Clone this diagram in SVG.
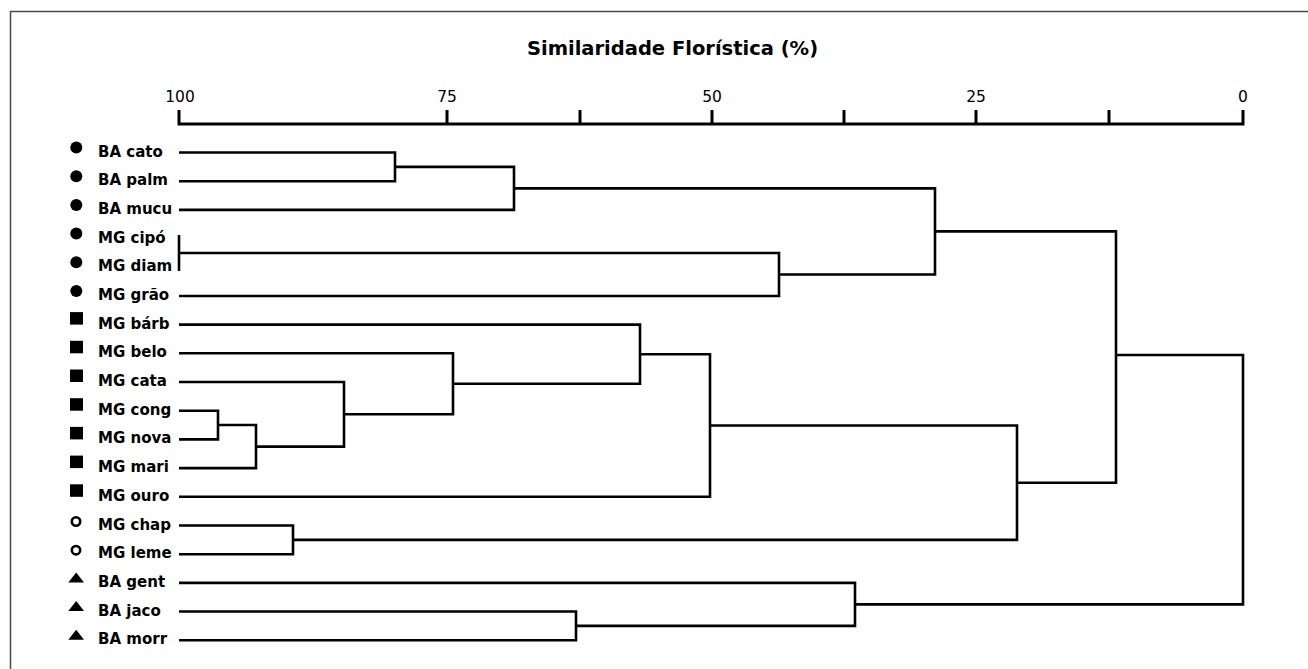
<svg xmlns="http://www.w3.org/2000/svg" width="1308" height="669" viewBox="0 0 1308 669">
<style>
  .frame{fill:none;stroke:#4a4a4a;stroke-width:1.5}
  .axis{fill:none;stroke:#000;stroke-width:3;stroke-linecap:butt;stroke-linejoin:miter}
  .tick{fill:none;stroke:#000;stroke-width:3}
  .br{fill:none;stroke:#000;stroke-width:2.6;stroke-linecap:butt;stroke-linejoin:miter}
  .title{font-family:"DejaVu Sans",sans-serif;font-weight:bold;font-size:19.5px;fill:#000}
  .tl{font-family:"DejaVu Sans",sans-serif;font-size:15.5px;fill:#000;text-anchor:middle}
  .lab{font-family:"DejaVu Sans Condensed","DejaVu Sans",sans-serif;font-stretch:condensed;font-weight:bold;font-size:16.7px;fill:#000}
  .fill{fill:#000}
  .open{fill:none;stroke:#000;stroke-width:2.6}
</style>
<rect x="10.5" y="11.5" width="1320" height="700" class="frame"/>
<text class="title" x="672.5" y="54.5" text-anchor="middle">Similaridade Florística (%)</text>
<g id="axis">
  <path class="axis" d="M179 110 V124 H1243 V110"/>
  <path class="tick" d="M447 110V124 M580 110V124 M712 110V124 M844 110V124 M976 110V124 M1109 110V124"/>
  <text class="tl" x="180" y="102">100</text>
  <text class="tl" x="447" y="102">75</text>
  <text class="tl" x="712" y="102">50</text>
  <text class="tl" x="976" y="102">25</text>
  <text class="tl" x="1243" y="102">0</text>
</g>
<g id="leaf-ba-cato"><circle class="fill" cx="76.3" cy="147.5" r="6"/><text class="lab" x="98" y="156.5">BA cato</text></g>
<g id="leaf-ba-palm"><circle class="fill" cx="76.3" cy="176.2" r="6"/><text class="lab" x="98" y="185.2">BA palm</text></g>
<g id="leaf-ba-mucu"><circle class="fill" cx="76.3" cy="204.9" r="6"/><text class="lab" x="98" y="213.9">BA mucu</text></g>
<g id="leaf-mg-cipo"><circle class="fill" cx="76.3" cy="233.6" r="6"/><text class="lab" x="98" y="242.6">MG cipó</text></g>
<g id="leaf-mg-diam"><circle class="fill" cx="76.3" cy="262.3" r="6"/><text class="lab" x="98" y="271.3">MG diam</text></g>
<g id="leaf-mg-grao"><circle class="fill" cx="76.3" cy="291" r="6"/><text class="lab" x="98" y="300">MG grão</text></g>
<g id="leaf-mg-barb"><rect class="fill" x="70" y="312.1" width="13" height="12.5"/><text class="lab" x="98" y="328.6">MG bárb</text></g>
<g id="leaf-mg-belo"><rect class="fill" x="70" y="340.8" width="13" height="12.5"/><text class="lab" x="98" y="357.3">MG belo</text></g>
<g id="leaf-mg-cata"><rect class="fill" x="70" y="369.5" width="13" height="12.5"/><text class="lab" x="98" y="386">MG cata</text></g>
<g id="leaf-mg-cong"><rect class="fill" x="70" y="398.2" width="13" height="12.5"/><text class="lab" x="98" y="414.7">MG cong</text></g>
<g id="leaf-mg-nova"><rect class="fill" x="70" y="426.9" width="13" height="12.5"/><text class="lab" x="98" y="443.4">MG nova</text></g>
<g id="leaf-mg-mari"><rect class="fill" x="70" y="455.6" width="13" height="12.5"/><text class="lab" x="98" y="472.1">MG mari</text></g>
<g id="leaf-mg-ouro"><rect class="fill" x="70" y="484.3" width="13" height="12.5"/><text class="lab" x="98" y="500.8">MG ouro</text></g>
<g id="leaf-mg-chap"><circle class="open" cx="76" cy="521.5" r="4.2"/><text class="lab" x="98" y="529.5">MG chap</text></g>
<g id="leaf-mg-leme"><circle class="open" cx="76" cy="550.2" r="4.2"/><text class="lab" x="98" y="558.2">MG leme</text></g>
<g id="leaf-ba-gent"><polygon class="fill" points="76.2,572.4 68.3,582.4 84,582.4"/><text class="lab" x="98" y="586.9">BA gent</text></g>
<g id="leaf-ba-jaco"><polygon class="fill" points="76.2,601 68.3,611 84,611"/><text class="lab" x="98" y="615.5">BA jaco</text></g>
<g id="leaf-ba-morr"><polygon class="fill" points="76.2,629.7 68.3,639.7 84,639.7"/><text class="lab" x="98" y="644.2">BA morr</text></g>
<g id="connectors">
  <path class="br" d="M179 152.5 H395 V181.2 H179"/>
  <path class="br" d="M395 166.85 H514 V209.9 H179"/>
  <path class="br" d="M179 235 V271"/>
  <path class="br" d="M179 253 H779 V295.95 H179"/>
  <path class="br" d="M514 188.4 H935 V274.5 H779"/>
  <path class="br" d="M179 410.7 H218 V439.4 H179"/>
  <path class="br" d="M218 425.05 H256 V468.1 H179"/>
  <path class="br" d="M179 382 H344 V446.6 H256"/>
  <path class="br" d="M179 353.3 H453 V414.3 H344"/>
  <path class="br" d="M179 324.6 H640 V383.8 H453"/>
  <path class="br" d="M640 354.2 H710 V496.8 H179"/>
  <path class="br" d="M179 525.5 H293 V554.2 H179"/>
  <path class="br" d="M710 425.5 H1017 V539.85 H293"/>
  <path class="br" d="M935 231.4 H1116 V482.7 H1017"/>
  <path class="br" d="M179 611.5 H576 V640.2 H179"/>
  <path class="br" d="M179 582.9 H855 V625.85 H576"/>
  <path class="br" d="M1116 355 H1243 V604.4 H855"/>
</g>
</svg>
